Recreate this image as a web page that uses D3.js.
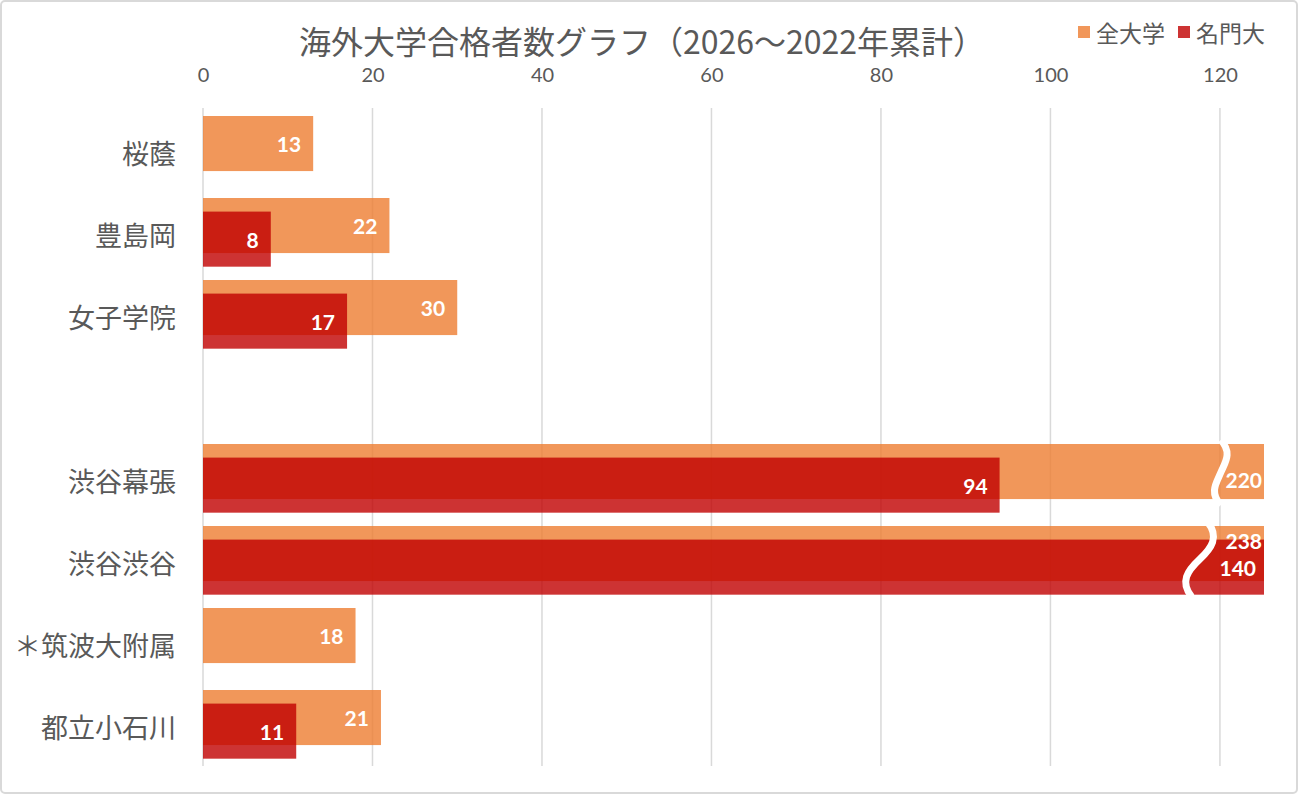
<!DOCTYPE html>
<html>
<head>
<meta charset="utf-8">
<script src="https://cdn.jsdelivr.net/npm/d3@7"></script>
<style>
  body { margin: 0; background: #fff; }
  text { font-family: "Noto Sans CJK JP", "Noto Sans", sans-serif; }
  .num { font-family: Lato, "Open Sans", sans-serif; }
</style>
</head>
<body>
<div id="chart"></div>
<script>
// 学校名（空文字は区切りの空行）
const schools = ["桜蔭", "豊島岡", "女子学院", "", "渋谷幕張", "渋谷渋谷", "＊筑波大附属", "都立小石川"];
const allUniv = [13, 22, 30, null, 220, 238, 18, 21];     // 全大学
const topUniv = [null, 8, 17, null, 94, 140, null, 11];   // 名門大
const xTicks = [0, 20, 40, 60, 80, 100, 120];
const seriesNames = ["全大学", "名門大"];
const title = "海外大学合格者数グラフ（2026～2022年累計）";

const W = 1298, H = 794;
const xMax = 125.2;
const orange = "#ED7D31", red = "#C00000";

const svg = d3.select("#chart").append("svg")
  .attr("width", W).attr("height", H);

svg.append("rect")
  .attr("x", 1).attr("y", 1).attr("width", W - 2).attr("height", H - 2)
  .attr("rx", 4).attr("fill", "#fff")
  .attr("stroke", "#d9d9d9").attr("stroke-width", 2);

const x = d3.scaleLinear().domain([0, xMax]).range([203, 1264]);
const y = d3.scaleBand().domain(schools).range([108, 766])
  .paddingInner(14 / 82).paddingOuter(8 / 82);
const bw = y.bandwidth();
const barH = bw * 0.81, redOff = bw * 0.2;

// グリッド線
svg.append("g")
  .selectAll("line")
  .data(xTicks)
  .enter().append("line")
  .attr("x1", (d) => x(d)).attr("x2", (d) => x(d))
  .attr("y1", 108).attr("y2", 766)
  .attr("stroke", "#d9d9d9").attr("stroke-width", 1.5);

// 上の軸
const xAxis = svg.append("g")
  .attr("transform", "translate(0,82)")
  .call(d3.axisTop(x).tickValues(xTicks).tickSize(0).tickPadding(0));
xAxis.select(".domain").remove();
xAxis.selectAll("text")
  .attr("class", "num")
  .attr("y", 0)
  .attr("dy", "0")
  .attr("fill", "#595959")
  .style("font-size", "20px");

// 学校名
svg.append("g")
  .selectAll("text")
  .data(schools)
  .enter().append("text")
  .attr("x", 176)
  .attr("y", (d) => y(d) + barH / 2 + 9)
  .attr("text-anchor", "end")
  .attr("dominant-baseline", "central")
  .attr("fill", "#595959")
  .style("font-size", "27px")
  .text((d) => d);

const rows = schools.map((s, i) => ({ school: s, all: allUniv[i], top: topUniv[i] }));
const clip = (v) => Math.min(v, xMax);

// 全大学
svg.append("g")
  .selectAll("rect")
  .data(rows.filter((d) => d.all != null))
  .enter().append("rect")
  .attr("x", x(0))
  .attr("y", (d) => y(d.school))
  .attr("width", (d) => x(clip(d.all)) - x(0))
  .attr("height", barH)
  .attr("fill", orange).attr("fill-opacity", 0.8);

// 名門大
svg.append("g")
  .selectAll("rect")
  .data(rows.filter((d) => d.top != null))
  .enter().append("rect")
  .attr("x", x(0))
  .attr("y", (d) => y(d.school) + redOff)
  .attr("width", (d) => x(clip(d.top)) - x(0))
  .attr("height", barH)
  .attr("fill", red).attr("fill-opacity", 0.8);

// 省略の波線
function wave(cx, y0, y1, slant) {
  const h = y1 - y0;
  const p = d3.path();
  p.moveTo(cx + slant / 2, y0);
  p.bezierCurveTo(cx + slant / 2 + 12, y0 + h * 0.2, cx + slant / 2 + 4, y0 + h * 0.35, cx, y0 + h * 0.5);
  p.bezierCurveTo(cx - slant / 2 - 4, y0 + h * 0.65, cx - slant / 2 - 12, y0 + h * 0.8, cx - slant / 2, y1);
  return p.toString();
}
const brokenRows = rows.filter((d) => d.all != null && d.all > xMax);
svg.append("g")
  .selectAll("path")
  .data(brokenRows)
  .enter().append("path")
  .attr("d", (d) => {
    const both = d.top != null && d.top > xMax;
    const y0 = y(d.school) - 4;
    const y1 = both ? y(d.school) + redOff + barH + 2 : y(d.school) + barH + 6;
    return both ? wave(x(117.6), y0, y1, 16) : wave(x(120.1), y0, y1, 0);
  })
  .attr("fill", "none")
  .attr("stroke", "#fff")
  .attr("stroke-width", 7);

// 数値ラベル
const labels = [];
rows.forEach((d) => {
  const bothBroken = d.all > xMax && d.top != null && d.top > xMax;
  if (d.all != null) {
    let ly = y(d.school) + barH / 2;
    if (bothBroken) ly = y(d.school) + 14;
    else if (d.all > xMax) ly += 8;
    labels.push({ v: d.all, x: d.all > xMax ? x(xMax) - 2 : x(d.all) - 12, y: ly });
  }
  if (d.top != null) {
    labels.push({
      v: d.top,
      x: d.top > xMax ? x(xMax) - 8 : x(d.top) - 12,
      y: y(d.school) + redOff + barH / 2,
    });
  }
});
svg.append("g")
  .selectAll("text")
  .data(labels)
  .enter().append("text")
  .attr("class", "num")
  .attr("x", (d) => d.x)
  .attr("y", (d) => d.y)
  .attr("text-anchor", "end")
  .attr("dominant-baseline", "central")
  .attr("fill", "#fff")
  .style("font-size", "21px")
  .style("font-weight", 700)
  .text((d) => d.v);

// タイトル
svg.append("text")
  .attr("x", 642)
  .attr("y", 40)
  .attr("text-anchor", "middle")
  .attr("dominant-baseline", "central")
  .attr("fill", "#595959")
  .style("font-size", "32px")
  .text(title);

// 凡例
const legend = svg.append("g")
  .selectAll("g")
  .data(seriesNames)
  .enter().append("g")
  .attr("transform", (d, i) => `translate(${1078 + i * 100},26)`);
legend.append("rect")
  .attr("width", 12).attr("height", 12)
  .attr("fill", (d, i) => (i === 0 ? orange : red))
  .attr("fill-opacity", 0.8);
legend.append("text")
  .attr("x", 18).attr("y", 6)
  .attr("dominant-baseline", "central")
  .attr("fill", "#595959")
  .style("font-size", "23px")
  .text((d) => d);
</script>
</body>
</html>
